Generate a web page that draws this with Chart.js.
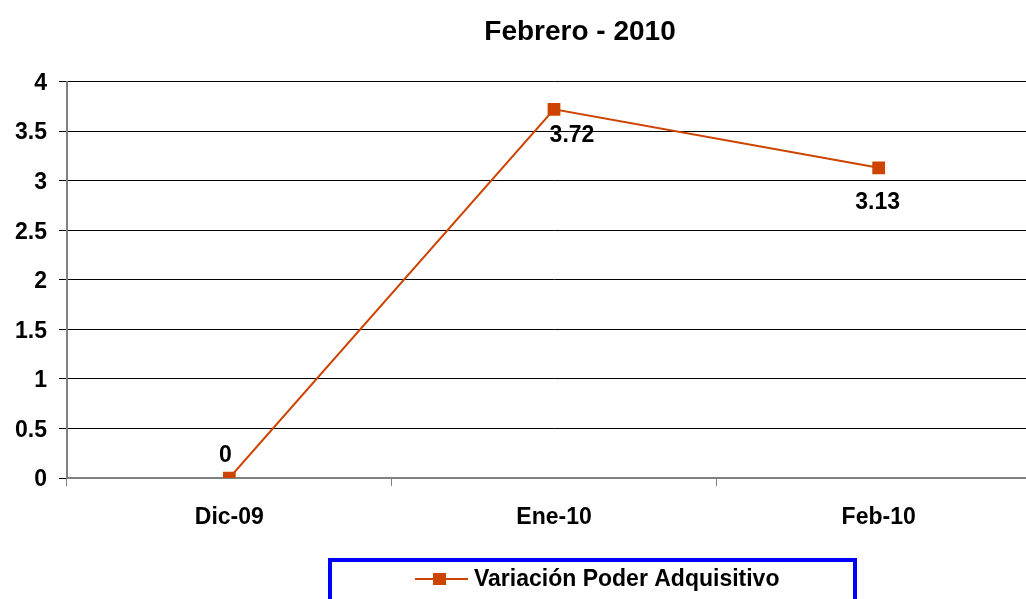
<!DOCTYPE html>
<html>
<head>
<meta charset="utf-8">
<title>Febrero - 2010</title>
<script src="https://cdn.jsdelivr.net/npm/chart.js@4"></script>
<style>
    html, body { margin: 0; padding: 0; background: #fff; overflow: hidden; }
    #wrap { width: 1160px; height: 599px; }
</style>
</head>
<body>
<div id="wrap"><canvas id="chartPoder" width="1160" height="599"></canvas></div>
<script>
'use strict';

// chart data
const chartTitle = 'Febrero - 2010';
const seriesLabel = 'Variación Poder Adquisitivo';
const months = ['Dic-09', 'Ene-10', 'Feb-10'];
const poderValues = [0, 3.72, 3.13];
const yTickLabels = ['0', '0.5', '1', '1.5', '2', '2.5', '3', '3.5', '4'];

const colors = {
    line: '#cc4400',
    grid: '#000000',
    axis: '#808080',
    legendBorder: '#0000ff',
    text: '#000000'
};

const fontFamily = '"Liberation Sans", Arial, sans-serif';

// where each value label sits relative to its point
const labelOffsets = [
    { dx: -4, dy: -22 },
    { dx: 18, dy: 26 },
    { dx: -1, dy: 35 }
];

// draws the value next to every point
const valueLabels = {
    id: 'valueLabels',
    afterDatasetsDraw: function (chart) {
        const ctx = chart.ctx;
        const dataset = chart.data.datasets[0];
        const meta = chart.getDatasetMeta(0);
        ctx.save();
        ctx.font = 'bold 23px ' + fontFamily;
        ctx.fillStyle = colors.text;
        ctx.textAlign = 'center';
        ctx.textBaseline = 'middle';
        meta.data.forEach(function (point, i) {
            const off = labelOffsets[i];
            ctx.fillText(String(dataset.data[i]), point.x + off.dx, point.y + off.dy);
        });
        ctx.restore();
    }
};

// legend in a blue frame, like the spreadsheet one
const framedLegend = {
    id: 'framedLegend',
    afterDraw: function (chart) {
        const ctx = chart.ctx;
        const dataset = chart.data.datasets[0];
        ctx.save();
        ctx.strokeStyle = colors.legendBorder;
        ctx.lineWidth = 4;
        ctx.strokeRect(330, 560, 525, 70);

        // line + square sample
        ctx.strokeStyle = dataset.borderColor;
        ctx.lineWidth = 2;
        ctx.beginPath();
        ctx.moveTo(415, 579);
        ctx.lineTo(468, 579);
        ctx.stroke();
        ctx.fillStyle = dataset.backgroundColor;
        ctx.fillRect(433, 573, 13, 12);

        ctx.font = 'bold 23px ' + fontFamily;
        ctx.fillStyle = colors.text;
        ctx.textAlign = 'left';
        ctx.textBaseline = 'middle';
        ctx.fillText(dataset.label, 474, 580);
        ctx.restore();
    }
};

const ctxPoder = document.getElementById('chartPoder');
new Chart(ctxPoder, {
    type: 'line',
    data: {
        labels: months,
        datasets: [{
            label: seriesLabel,
            data: poderValues,
            borderColor: colors.line,
            backgroundColor: colors.line,
            borderWidth: 2,
            tension: 0,
            pointStyle: 'rect',
            pointRadius: 9,
            pointHoverRadius: 9,
            pointBorderWidth: 0,
            pointBackgroundColor: colors.line
        }]
    },
    options: {
        responsive: false,
        animation: false,
        layout: { padding: 0 },
        scales: {
            x: {
                offset: true,
                grid: {
                    offset: true,
                    drawOnChartArea: false,
                    drawTicks: true,
                    tickLength: 8,
                    color: colors.axis
                },
                border: { display: true, color: colors.axis, width: 2 },
                ticks: {
                    color: colors.text,
                    padding: 18,
                    font: { family: fontFamily, size: 23, weight: 'bold' }
                },
                afterFit: function (scale) { scale.height = 121; }
            },
            y: {
                min: 0,
                max: 4,
                grid: {
                    color: colors.grid,
                    lineWidth: 1,
                    drawTicks: true,
                    tickLength: 8
                },
                border: { display: true, color: colors.axis, width: 2 },
                ticks: {
                    stepSize: 0.5,
                    color: colors.text,
                    padding: 12,
                    labelOffset: 2,
                    font: { family: fontFamily, size: 23, weight: 'bold' },
                    callback: function (value, index) { return yTickLabels[index]; }
                },
                afterFit: function (scale) { scale.width = 67; }
            },
            // empty right axis: pushes the plot past the visible edge
            yRight: {
                position: 'right',
                display: true,
                grid: { display: false, drawTicks: false },
                border: { display: false },
                ticks: { display: false },
                afterFit: function (scale) { scale.width = 119; }
            }
        },
        plugins: {
            legend: { display: false },
            tooltip: { enabled: false },
            title: {
                display: true,
                text: chartTitle,
                color: colors.text,
                font: { family: fontFamily, size: 28, weight: 'bold' },
                padding: { top: 15, bottom: 33 }
            }
        }
    },
    plugins: [valueLabels, framedLegend]
});
</script>
</body>
</html>
